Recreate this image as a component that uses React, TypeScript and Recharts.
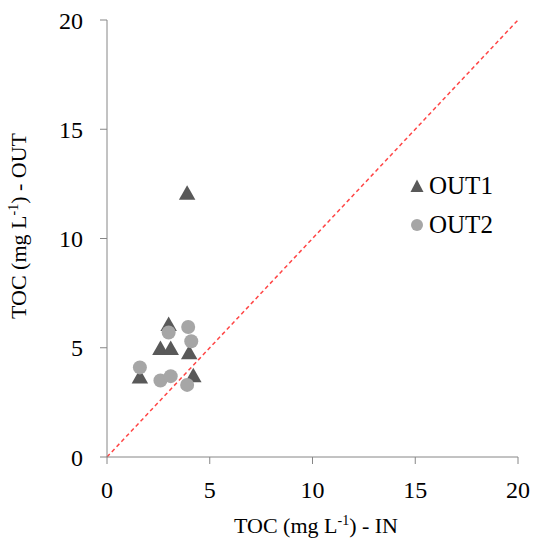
import React from "react";
import { ScatterChart, Scatter, XAxis, YAxis, ReferenceLine, Label } from "recharts";

const out1X = [3.9, 3.0, 2.6, 3.1, 4.0, 1.6, 4.2];
const out1Y = [12.1, 6.1, 5.0, 5.0, 4.8, 3.7, 3.75];
const out2X = [3.95, 3.0, 4.1, 1.6, 2.6, 3.1, 3.9];
const out2Y = [5.95, 5.7, 5.3, 4.1, 3.5, 3.7, 3.3];
const axisTicks = [0, 5, 10, 15, 20];
const seriesNames = ["OUT1", "OUT2"];

const out1 = out1X.map((x, i) => ({ x, y: out1Y[i] }));
const out2 = out2X.map((x, i) => ({ x, y: out2Y[i] }));

const FONT = "'Liberation Serif', 'Times New Roman', serif";
const AXIS = "#868686";
const DARK = "#595959";
const LIGHT = "#a6a6a6";

const Triangle = (props: any) => {
  const { cx, cy } = props;
  const w = 16.5;
  const h = 14.5;
  return (
    <polygon
      points={`${cx},${cy - h / 2} ${cx - w / 2},${cy + h / 2} ${cx + w / 2},${cy + h / 2}`}
      fill={DARK}
    />
  );
};

const Dot = (props: any) => <circle cx={props.cx} cy={props.cy} r={7} fill={LIGHT} />;

// legend drawn as an overlay so it does not take space from the plot
const ChartLegend = () => (
  <div style={{ position: "absolute", left: 410, top: 167, fontFamily: FONT, fontSize: 25, color: "#000" }}>
    {seriesNames.map((name, i) => (
      <div key={name} style={{ display: "flex", alignItems: "center", height: 38.5 }}>
        <svg width={14} height={14} style={{ marginRight: 5 }}>
          {i === 0 ? (
            <polygon points="7,0.5 0.5,13 13.5,13" fill={DARK} />
          ) : (
            <circle cx={7} cy={7} r={6} fill={LIGHT} />
          )}
        </svg>
        <span>{name}</span>
      </div>
    ))}
  </div>
);

const YTitle = () => (
  <text x={26} y={226} transform="rotate(-90 26 226)" textAnchor="middle" fontFamily={FONT} fontSize={22} fill="#000">
    TOC (mg L
    <tspan dy={-8} fontSize={14}>-1</tspan>
    <tspan dy={8}>) - OUT</tspan>
  </text>
);

const XTitle = () => (
  <text x={316} y={533} textAnchor="middle" fontFamily={FONT} fontSize={22} fill="#000">
    TOC (mg L
    <tspan dy={-8} fontSize={14}>-1</tspan>
    <tspan dy={8}>) - IN</tspan>
  </text>
);

export default function App() {
  return (
    <div style={{ position: "absolute", left: 0, top: 0, width: 533, height: 538, background: "#fff" }}>
      <ScatterChart width={533} height={538} margin={{ top: 20, right: 15, left: 0, bottom: 0 }}>
        <XAxis
          type="number"
          dataKey="x"
          domain={[0, 20]}
          ticks={axisTicks}
          height={81}
          tickSize={7}
          tickMargin={17}
          axisLine={{ stroke: AXIS }}
          tickLine={{ stroke: AXIS }}
          tick={{ fill: "#000", fontSize: 24, fontFamily: FONT }}
        >
          <Label content={<XTitle />} />
        </XAxis>
        <YAxis
          type="number"
          dataKey="y"
          domain={[0, 20]}
          ticks={axisTicks}
          width={107}
          tickSize={7}
          tickMargin={17}
          axisLine={{ stroke: AXIS }}
          tickLine={{ stroke: AXIS }}
          tick={{ fill: "#000", fontSize: 24, fontFamily: FONT }}
        >
          <Label content={<YTitle />} />
        </YAxis>
        <Scatter name="OUT1" data={out1} shape={<Triangle />} isAnimationActive={false} />
        <Scatter name="OUT2" data={out2} shape={<Dot />} isAnimationActive={false} />
        <ReferenceLine
          segment={[{ x: 0, y: 0 }, { x: 20, y: 20 }]}
          stroke="#ff4545"
          strokeWidth={1.5}
          strokeDasharray="4 3"
        />
      </ScatterChart>
      <ChartLegend />
    </div>
  );
}
